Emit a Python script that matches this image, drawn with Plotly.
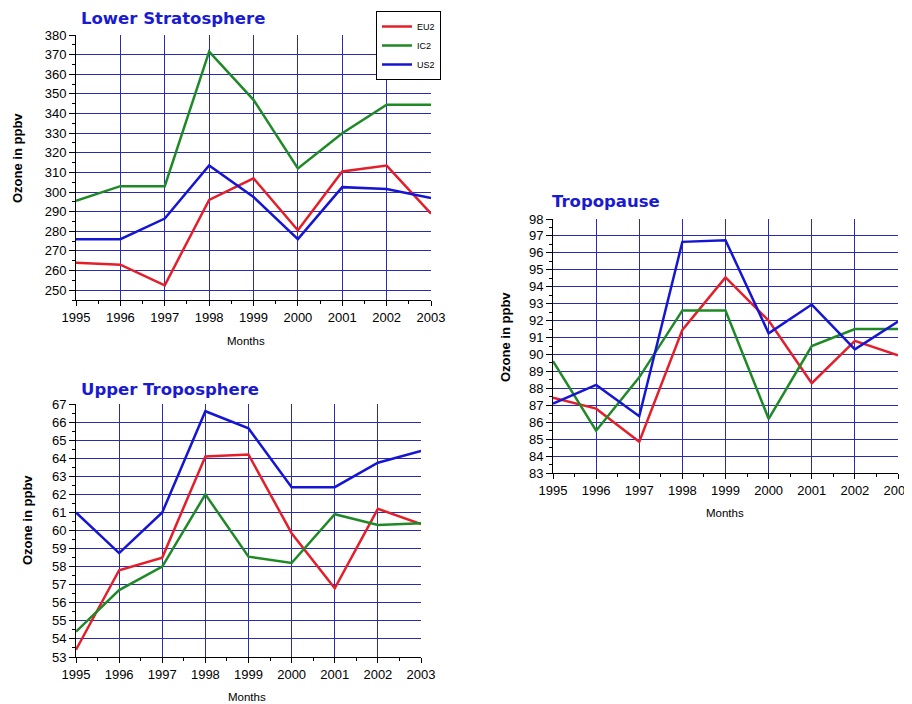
import plotly.graph_objects as go

# ---- data ----
years = [1995, 1996, 1997, 1998, 1999, 2000, 2001, 2002, 2003]
series_names = ["EU2", "IC2", "US2"]

ls_eu2 = [264, 263, 252.5, 296, 307, 280.5, 310.5, 313.5, 289]
ls_ic2 = [295.5, 303, 303, 371.5, 347, 312, 330, 344.5, 344.5]
ls_us2 = [276, 276, 286.5, 313.5, 297.5, 276, 302.5, 301.5, 297]

ut_eu2 = [53.4, 57.8, 58.5, 64.1, 64.2, 59.85, 56.8, 61.2, 60.35]
ut_ic2 = [54.4, 56.7, 58.0, 62.0, 58.55, 58.2, 60.9, 60.3, 60.4]
ut_us2 = [61.0, 58.75, 61.0, 66.6, 65.65, 62.4, 62.4, 63.75, 64.4]

tp_eu2 = [87.45, 86.8, 84.85, 91.45, 94.55, 92.0, 88.3, 90.8, 89.95]
tp_ic2 = [89.6, 85.5, 88.65, 92.6, 92.6, 86.2, 90.5, 91.5, 91.5]
tp_us2 = [87.1, 88.2, 86.35, 96.65, 96.75, 91.25, 92.95, 90.3, 91.95]

ls_ticks = [250, 260, 270, 280, 290, 300, 310, 320, 330, 340, 350, 360, 370, 380]
ut_ticks = [53, 54, 55, 56, 57, 58, 59, 60, 61, 62, 63, 64, 65, 66, 67]
tp_ticks = [83, 84, 85, 86, 87, 88, 89, 90, 91, 92, 93, 94, 95, 96, 97, 98]

panel_titles = ["Lower Stratosphere", "Upper Troposphere", "Tropopause"]
y_title = "Ozone in ppbv"
x_title = "Months"

# ---- styles ----
line_colors = ["#e3202a", "#1f8a25", "#1616d2"]
grid_color = "#2a2ab4"
title_color = "#1a1ad0"
FONT = "Liberation Sans, Arial, sans-serif"
TFONT = "DejaVu Sans, Verdana, sans-serif"
OFF = 8                      # page body margin of the browser
W, H = 912 - OFF, 704 - OFF  # figure size so that it fills the window


def px(x):
    return (x - OFF) / W


def py(y):
    return 1 - (y - OFF) / H


panels = [
    dict(data=[ls_eu2, ls_ic2, ls_us2], ticks=ls_ticks, ymin=5,
         xdom=(76, 431), ydom=(35, 300), yrange=(245, 380),
         title_xy=(79, 19), ytitle_xy=(18, 158), xtitle_xy=(246, 341)),
    dict(data=[ut_eu2, ut_ic2, ut_us2], ticks=ut_ticks, ymin=0.5,
         xdom=(76, 421), ydom=(404, 657), yrange=(53, 67),
         title_xy=(79, 389), ytitle_xy=(27, 520), xtitle_xy=(247, 697)),
    dict(data=[tp_eu2, tp_ic2, tp_us2], ticks=tp_ticks, ymin=0.5,
         xdom=(553, 898), ydom=(219, 473), yrange=(83, 98),
         title_xy=(550, 201), ytitle_xy=(506, 337), xtitle_xy=(725, 513)),
]

fig = go.Figure()
layout = dict(width=W, height=H, margin=dict(l=0, r=0, t=0, b=0, autoexpand=False),
              template="none",
              paper_bgcolor="white", plot_bgcolor="white",
              font=dict(family=FONT, size=13, color="black"),
              annotations=[])

for i, p in enumerate(panels):
    n = i + 1
    xg = "x" if n == 1 else "x%d" % n
    yg = "y" if n == 1 else "y%d" % n
    sfx = "" if n == 1 else str(n)
    lab = str(n + 3)
    xl, yl = "x" + lab, "y" + lab
    # placeholder on the grid axes (draws nothing; makes the grid subplot exist)
    fig.add_trace(go.Scatter(x=years, y=p["data"][0], mode="none", showlegend=False,
                             hoverinfo="skip", xaxis=xg, yaxis=yg))
    for k, vals in enumerate(p["data"]):
        fig.add_trace(go.Scatter(
            x=years, y=vals, mode="lines", name=series_names[k],
            line=dict(color=line_colors[k], width=2.5),
            xaxis=xl, yaxis=yl, showlegend=(i == 0)))
    xdom = [px(p["xdom"][0]), px(p["xdom"][1])]
    ydom = [py(p["ydom"][1]), py(p["ydom"][0])]
    # grid axes: interior grid lines only
    layout["xaxis" + sfx] = dict(
        domain=xdom, anchor=yg, range=[years[0], years[-1]],
        tickmode="array", tickvals=years[1:-1], showticklabels=False, ticks="",
        showgrid=True, gridcolor=grid_color, gridwidth=1,
        showline=False, zeroline=False, automargin=False)
    layout["yaxis" + sfx] = dict(
        domain=ydom, anchor=xg, range=list(p["yrange"]),
        tickmode="array", tickvals=p["ticks"][:-1], showticklabels=False, ticks="",
        showgrid=True, gridcolor=grid_color, gridwidth=1,
        showline=False, zeroline=False, automargin=False)
    # labelled axes overlaying the grid axes (carry the data)
    layout["xaxis" + lab] = dict(
        overlaying=xg, anchor=yl, range=[years[0], years[-1]],
        tickmode="array", tickvals=years, showgrid=False,
        showline=True, linecolor="black", linewidth=1,
        ticks="outside", ticklen=5, tickcolor="black",
        ticklabeloverflow="allow",
        minor=dict(ticks="outside", ticklen=3, dtick=0.5, tick0=years[0], tickcolor="black"),
        zeroline=False, automargin=False, tickfont=dict(size=13, family=FONT))
    layout["yaxis" + lab] = dict(
        overlaying=yg, anchor=xl, range=list(p["yrange"]),
        tickmode="array", tickvals=p["ticks"], showgrid=False,
        showline=True, linecolor="black", linewidth=1,
        ticks="outside", ticklen=6, tickcolor="black",
        ticklabeloverflow="allow",
        minor=dict(ticks="outside", ticklen=3, dtick=p["ymin"], tick0=p["ticks"][0], tickcolor="black"),
        zeroline=False, automargin=False, tickfont=dict(size=13, family=FONT))
    tx, ty = p["title_xy"]
    layout["annotations"].append(dict(
        text="<b>" + panel_titles[i] + "</b>", x=px(tx), y=py(ty),
        xref="paper", yref="paper", xanchor="left", yanchor="middle",
        showarrow=False, font=dict(size=16.5, color=title_color, family=TFONT)))
    yx, yy = p["ytitle_xy"]
    layout["annotations"].append(dict(
        text="<b>" + y_title + "</b>", x=px(yx), y=py(yy),
        xref="paper", yref="paper", xanchor="center", yanchor="middle",
        textangle=-90, showarrow=False, font=dict(size=13, color="black", family=FONT)))
    xx, xy = p["xtitle_xy"]
    layout["annotations"].append(dict(
        text=x_title, x=px(xx), y=py(xy),
        xref="paper", yref="paper", xanchor="center", yanchor="middle",
        showarrow=False, font=dict(size=11.5, color="black", family=FONT)))

layout["legend"] = dict(
    x=px(376), y=py(11), xanchor="left", yanchor="top",
    bordercolor="black", borderwidth=1, bgcolor="white",
    font=dict(size=9, family=FONT), itemwidth=30, tracegroupgap=0)

fig.update_layout(**layout)
fig.write_html("out.html")
